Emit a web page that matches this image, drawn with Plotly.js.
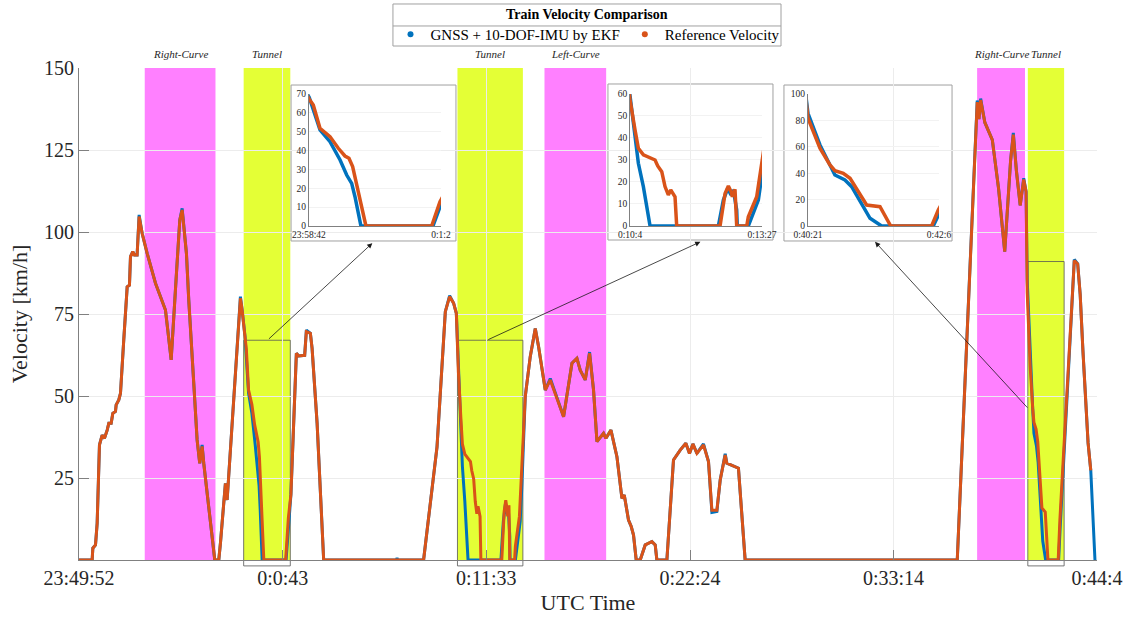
<!DOCTYPE html>
<html>
<head>
<meta charset="utf-8">
<script src="https://cdn.plot.ly/plotly-3.0.1.min.js"></script>
<style>html,body{margin:0;padding:0;background:#fff;}#chart{width:1128px;height:619px;}</style>
</head>
<body>
<div id="chart"></div>
<script>
// ---- time axis (seconds after 23:49:52 UTC) ----
const tickTimes = [0, 651, 1301, 1952, 2602, 3252];
const tickLabels = ['23:49:52', '0:0:43', '0:11:33', '0:22:24', '0:33:14', '0:44:4'];
const yTicks = [25, 50, 75, 100, 125, 150];

// ---- Reference velocity (km/h) ----
const refT = [0,42,44.2,52.7,58,65.4,74,81.4,90,95.3,102.7,108,116.5,118.7,127.1,132.5,143,153.9,161.2,164.5,171.8,177.2,185.6,192.1,201.7,217.7,244.3,276.2,283.6,294.4,311.3,322,329.5,336.8,343.2,350.6,358.3,366.6,377.3,385.7,393.3,398.5,433.7,446.5,451.8,462.4,467.7,473.2,515.7,521.1,
  530.3,534.6,541.7,552.3,561.1,568.2,572.4,576.3,584.1,590.4,660.1,668.9,
  677,694.4,701.8,720.9,726.3,739.1,744.6,760.6,781.6,1100.8,1143.7,1170.2,1184,1196.7,1205.4,
  1212,1219.7,1224.8,1232.5,1245.4,1250.5,1254.6,1260.8,1265.8,1270.9,1274.6,1281.2,1283.8,1350.5,1358.2,1363.3,1367.4,1369.4,1373.5,1374.6,1376.1,1391.5,1394,1406.9,1414.6,
  1425.5,1441.5,1457.6,1468.2,1489.5,1505.5,1548,1574.7,1590.6,1601.2,1617.2,1631,1643.7,1654.6,1675.6,1683.3,1699.3,1718.4,1734.4,1741.8,1755.4,1764.1,1771.4,1780,1792.8,1808.8,1819.3,1830.1,1840.7,1846,1878,1899.1,1920.5,1938.6,1950.2,1961.1,1973.9,1994.9,2010.9,2021.8,2037.7,2048.3,2064.3,2069.6,2106.6,2128,2805.6,2838.4,2869.4,2874.8,2880.3,2893.7,2917.6,2937.4,2957.2,2976,2984.7,2994.6,3006.7,3017.9,3025.5,
  3029,3032,3038.6,3046.6,3050.6,3057.3,3062.7,3076,3086.7,3095.3,3128.1,3133.4,
  3179.5,3190.3,3198.3,3206.9,3223.5,3232.1];
const refV = [0,0,3.6,4.6,11.2,35.1,38.1,37.1,39.6,41.7,41.7,44.7,45.3,47.3,48.8,50.8,67.1,83.3,83.8,92.5,94,93,93,104.7,99.6,93.5,84.4,76.2,70.1,61,87.4,103.7,106.7,100.6,93.5,79.3,68.1,53.9,36.6,29.5,34.6,29.5,0,0,5.1,18.8,23.4,18.3,79.8,76.2,
  67.2,64.2,51.8,47.4,41.2,37.1,35.9,31.5,13.8,0,0,12.9,
  20,63,62.2,62.4,69.6,69.1,64.5,41.7,0,0,34.5,75.7,80.3,78.3,75.2,
  57.3,43.6,35.3,32.3,30.8,30,27.3,24.7,17.9,14.1,16.4,13.3,0,0,14.8,18.2,15.6,13.3,16.7,6.5,0,0,4.2,13.3,29.2,
  49.8,62,70.6,65,51.8,54.9,43.7,60,61.5,57.9,54.9,63,51.8,36.1,38.6,37.1,39.6,31.5,18.8,19.8,12.2,10.2,7.6,0,0,4.6,5.1,5.6,4.6,0,0,30.5,33.5,35.6,32.5,35.4,32.5,35.1,30,15.2,15.2,24.4,32,29.5,28,0,0,74.5,139.6,134.4,140.2,133.4,128.1,113.4,94,121.8,129.7,118.6,108.1,116,112.3,
  81.6,74,58.9,46.2,41.9,39.9,36.1,15.9,14.6,0,0,12.1,
  91.3,90.3,80.9,64.1,35.7,27.3];

// ---- GNSS + 10-DOF-IMU by EKF (km/h) ----
const ekfT = [0,42,44.2,52.7,58,65.4,74,81.4,90,95.3,102.7,108,116.5,118.7,127.1,132.5,143,153.9,161.2,164.5,171.8,177.2,185.6,192.1,201.7,217.7,244.3,276.2,283.6,294.4,311.3,322,329.5,336.8,343.2,350.6,358.3,366.6,377.3,385.7,393.3,398.5,433.7,446.5,451.8,462.4,467.7,473.2,515.7,521.1,
  530.3,541.7,552.3,563,570,575.3,578.8,585.1,661.5,669.6,
  677,694.4,701.8,720.9,726.3,739.1,744.6,760.6,781.6,1014,1016,1018,1100.8,1143.7,1170.2,1184,1196.7,1205.4,
  1212,1219.7,1224.8,1232.5,1242.8,1347.9,1355.6,1362.3,1367.4,1371,1376.1,1377,1394,1409.4,1414.6,
  1425.5,1441.5,1457.6,1468.2,1489.5,1505.5,1548,1574.7,1590.6,1601.2,1617.2,1631,1643.7,1654.6,1675.6,1683.3,1699.3,1718.4,1734.4,1741.8,1755.4,1764.1,1771.4,1780,1792.8,1808.8,1819.3,1830.1,1840.7,1846,1878,1899.1,1920.5,1938.6,1950.2,1961.1,1973.9,1994.9,2010.9,2021.8,2037.7,2048.3,2064.3,2069.6,2106.6,2128,2805.6,2838.4,2869.4,2874.8,2880.3,2893.7,2917.6,2937.4,2957.2,2976,2984.7,2994.6,3006.7,3017.9,3025.5,
  3029,3033.2,3038.6,3046.6,3050.6,3058.6,3064,3078.7,3088,3129.4,3134.2,
  3179.5,3190.3,3198.3,3206.9,3223.5,3232.1,3245.5];
const ekfV = [0,0,3.6,4.6,11.2,35.1,38.1,37.1,39.6,41.7,41.7,44.7,45.3,47.3,48.8,50.8,67.1,83.3,83.8,92.5,94,93,93,105.2,99.6,93.5,84.4,76.2,70.1,61,87.4,103.7,107.2,100.6,93.5,79.3,68.1,53.9,36.6,29.5,35.1,29.5,0,0,5.1,18.8,23.4,18.3,80.3,76.2,
  68.2,50.9,44.7,35,27,22.6,15.5,0,0,11.1,
  20,63,62.2,62.4,70.1,69.1,64.5,41.7,0,0,0.6,0,0,34.5,75.7,80.6,78.3,75.2,
  59.1,42.1,28.5,17.9,0,0,11.8,17.1,14.1,16.4,7.3,0,0,11.8,22.4,
  49.8,62,70.6,65,51.8,55.3,43.7,60,61.5,57.9,54.9,63.4,51.8,36.1,38.6,37.1,39.6,31.5,18.8,19.8,12.2,10.2,7.6,0,0,4.6,5.1,5.6,4.6,0,0,30.5,33.5,35.6,32.5,35.4,32.5,35.4,30,14.5,14.8,24.4,32.4,29.5,28,0,0,74.5,140.1,134.4,140.7,133.4,128.1,113.4,94,121.8,130.2,118.6,108.1,116.4,112.3,
  85.4,75.2,61.4,46.2,38.6,34.8,29.8,5.8,0,0,9.6,
  91.6,90.3,80.9,64.1,35.7,27.3,0];

// ---- track zones ----
const zoneNames = ['Right-Curve', 'Tunnel', 'Tunnel', 'Left-Curve', 'Right-Curve', 'Tunnel'];
const zoneStart = [210, 526, 1209, 1487, 2869, 3031];
const zoneEnd   = [436, 675, 1418, 1684, 3022, 3147];

// ---- zoom windows ----
const boxStart = [526, 1209, 3031];
const boxEnd   = [675, 1418, 3147];
const boxTop   = [67, 67, 91];
const insetStart = [530, 1212, 3029];
const insetEnd   = [670, 1415, 3134];
const insetStartLabel = ['23:58:42', '0:10:4', '0:40:21'];
const insetEndLabel   = ['0:1:2', '0:13:27', '0:42:6'];
const insetYMax  = [70, 60, 100];
const insetDtick = [10, 10, 20];
const arrowTailT = [602, 1303, 3034];
const arrowTailV = [67, 67, 46];
const arrowHeadT = [937, 1985, 2543];
const arrowHeadV = [96.6, 97, 97];

// ---- styling ----
const BLUE = '#0072BD', ORANGE = '#D95319';
const MAGENTA = '#FF80FF', YELLOW = '#E4FF36';
const SERIF = 'Liberation Serif, Times New Roman, serif';
const TXT = '#262626';
const Y_MAX = 150;
const LEGEND_TITLE = 'Train Velocity Comparison';

// inset placements (paper fractions of the plotting area)
const insetX = [[0.2259, 0.3556], [0.5413, 0.6709], [0.7161, 0.8448]];
const insetY = [0.6789, 0.9472];
const frameX = [[0.2083, 0.3703], [0.5196, 0.6817], [0.6925, 0.8576]];
const frameY = [[0.6484, 0.9654], [0.6504, 0.9675], [0.6484, 0.9654]];
// legend frame (paper fractions)
const legBoxX = [0.3084, 0.6896];
const legBoxY = [1.0447, 1.1301];
const legSepY = 1.0854;

const traces = [
  {x: ekfT, y: ekfV, type: 'scatter', mode: 'lines', line: {color: BLUE, width: 3}, showlegend: false, hoverinfo: 'skip'},
  {x: refT, y: refV, type: 'scatter', mode: 'lines', line: {color: ORANGE, width: 3}, showlegend: false, hoverinfo: 'skip'}
];
for (let i = 0; i < 3; i++) {
  const ax = i + 2;
  traces.push({x: ekfT, y: ekfV, xaxis: 'x' + ax, yaxis: 'y' + ax, type: 'scatter', mode: 'lines', line: {color: BLUE, width: 3.5}, showlegend: false, hoverinfo: 'skip'});
  traces.push({x: refT, y: refV, xaxis: 'x' + ax, yaxis: 'y' + ax, type: 'scatter', mode: 'lines', line: {color: ORANGE, width: 3.5}, showlegend: false, hoverinfo: 'skip'});
}
// legend entries
traces.push({x: [null], y: [null], type: 'scatter', mode: 'markers', name: 'GNSS + 10-DOF-IMU by EKF', marker: {color: BLUE, size: 6}});
traces.push({x: [null], y: [null], type: 'scatter', mode: 'markers', name: 'Reference Velocity', marker: {color: ORANGE, size: 6}});

const shapes = [];
const annotations = [];
for (let i = 0; i < zoneNames.length; i++) {
  shapes.push({type: 'rect', xref: 'x', yref: 'paper', x0: zoneStart[i], x1: zoneEnd[i], y0: 0, y1: 1,
    fillcolor: zoneNames[i] === 'Tunnel' ? YELLOW : MAGENTA, line: {width: 0}, layer: 'below'});
  annotations.push({xref: 'x', yref: 'paper', x: (zoneStart[i] + zoneEnd[i]) / 2, y: 1.0285, yanchor: 'middle',
    text: '<i>' + zoneNames[i] + '</i>', showarrow: false, font: {family: SERIF, size: 11, color: TXT}});
}
for (let i = 0; i < 3; i++) {
  shapes.push({type: 'rect', xref: 'paper', yref: 'paper', x0: frameX[i][0], x1: frameX[i][1], y0: frameY[i][0], y1: frameY[i][1],
    fillcolor: '#ffffff', line: {color: '#a0a0a0', width: 1}, layer: 'below'});
  shapes.push({type: 'rect', xref: 'x', yref: 'paper', x0: boxStart[i], x1: boxEnd[i], y0: -0.012, y1: boxTop[i] / Y_MAX,
    fillcolor: 'rgba(0,0,0,0)', line: {color: '#555555', width: 0.8}, layer: 'below'});
  annotations.push({xref: 'x', yref: 'y', axref: 'x', ayref: 'y', x: arrowHeadT[i], y: arrowHeadV[i], ax: arrowTailT[i], ay: arrowTailV[i],
    text: '', showarrow: true, arrowhead: 2, arrowsize: 1.3, arrowwidth: 0.8, arrowcolor: '#1a1a1a', standoff: 0, startstandoff: 0});
}
// legend frame, title and separator
shapes.push({type: 'rect', xref: 'paper', yref: 'paper', x0: legBoxX[0], x1: legBoxX[1], y0: legBoxY[0], y1: legBoxY[1],
  fillcolor: '#ffffff', line: {color: '#a0a0a0', width: 1}, layer: 'below'});
shapes.push({type: 'line', xref: 'paper', yref: 'paper', x0: legBoxX[0], x1: legBoxX[1], y0: legSepY, y1: legSepY,
  line: {color: '#a0a0a0', width: 1}, layer: 'below'});
annotations.push({xref: 'paper', yref: 'paper', x: (legBoxX[0] + legBoxX[1]) / 2, y: (legSepY + legBoxY[1]) / 2, yanchor: 'middle',
  text: '<b>' + LEGEND_TITLE + '</b>', showarrow: false, font: {family: SERIF, size: 14, color: '#000'}});

const layout = {
  width: 1128, height: 619,
  margin: {l: 79, r: 31, t: 68, b: 59},
  paper_bgcolor: '#ffffff', plot_bgcolor: 'rgba(0,0,0,0)',
  font: {family: SERIF, color: TXT},
  showlegend: true,
  legend: {orientation: 'h', x: 0.5, xanchor: 'center', yref: 'container', y: 0.9709, yanchor: 'top',
    bgcolor: 'rgba(0,0,0,0)', borderwidth: 0,
    font: {family: SERIF, size: 15, color: '#000'},
    itemwidth: 30, tracegroupgap: 0},
  xaxis: {range: [0, tickTimes[tickTimes.length - 1]], tickmode: 'array', tickvals: tickTimes, ticktext: tickLabels,
    ticks: 'inside', ticklen: 10, tickcolor: '#808080', showline: true, linecolor: '#808080', linewidth: 1,
    showgrid: true, gridcolor: '#ececec', zeroline: false, fixedrange: true,
    tickfont: {family: SERIF, size: 20, color: TXT},
    title: {text: 'UTC Time', font: {family: SERIF, size: 22, color: TXT}, standoff: 6}},
  yaxis: {range: [0, Y_MAX], tickmode: 'array', tickvals: yTicks,
    ticks: 'inside', ticklen: 10, tickcolor: '#808080', showline: true, linecolor: '#808080', linewidth: 1,
    showgrid: true, gridcolor: '#ececec', zeroline: false, fixedrange: true,
    tickfont: {family: SERIF, size: 20, color: TXT},
    title: {text: 'Velocity [km/h]', font: {family: SERIF, size: 22, color: TXT}, standoff: 10}},
  shapes: shapes,
  annotations: annotations
};
for (let i = 0; i < 3; i++) {
  const ax = i + 2;
  layout['xaxis' + ax] = {domain: insetX[i], anchor: 'y' + ax, range: [insetStart[i], insetEnd[i]],
    tickmode: 'array', tickvals: [insetStart[i], insetEnd[i]], ticktext: [insetStartLabel[i], insetEndLabel[i]],
    ticks: '', showline: true, linecolor: '#808080', linewidth: 1, showgrid: true, gridcolor: '#f2f2f2', zeroline: false,
    fixedrange: true, tickfont: {family: SERIF, size: 9.5, color: TXT}};
  layout['yaxis' + ax] = {domain: insetY, anchor: 'x' + ax, range: [0, insetYMax[i]], dtick: insetDtick[i], tick0: 0,
    ticks: '', showline: true, linecolor: '#808080', linewidth: 1, showgrid: true, gridcolor: '#f2f2f2', zeroline: false,
    fixedrange: true, tickfont: {family: SERIF, size: 9.5, color: TXT}};
}

Plotly.newPlot('chart', traces, layout, {staticPlot: true, displayModeBar: false});
</script>
</body>
</html>
